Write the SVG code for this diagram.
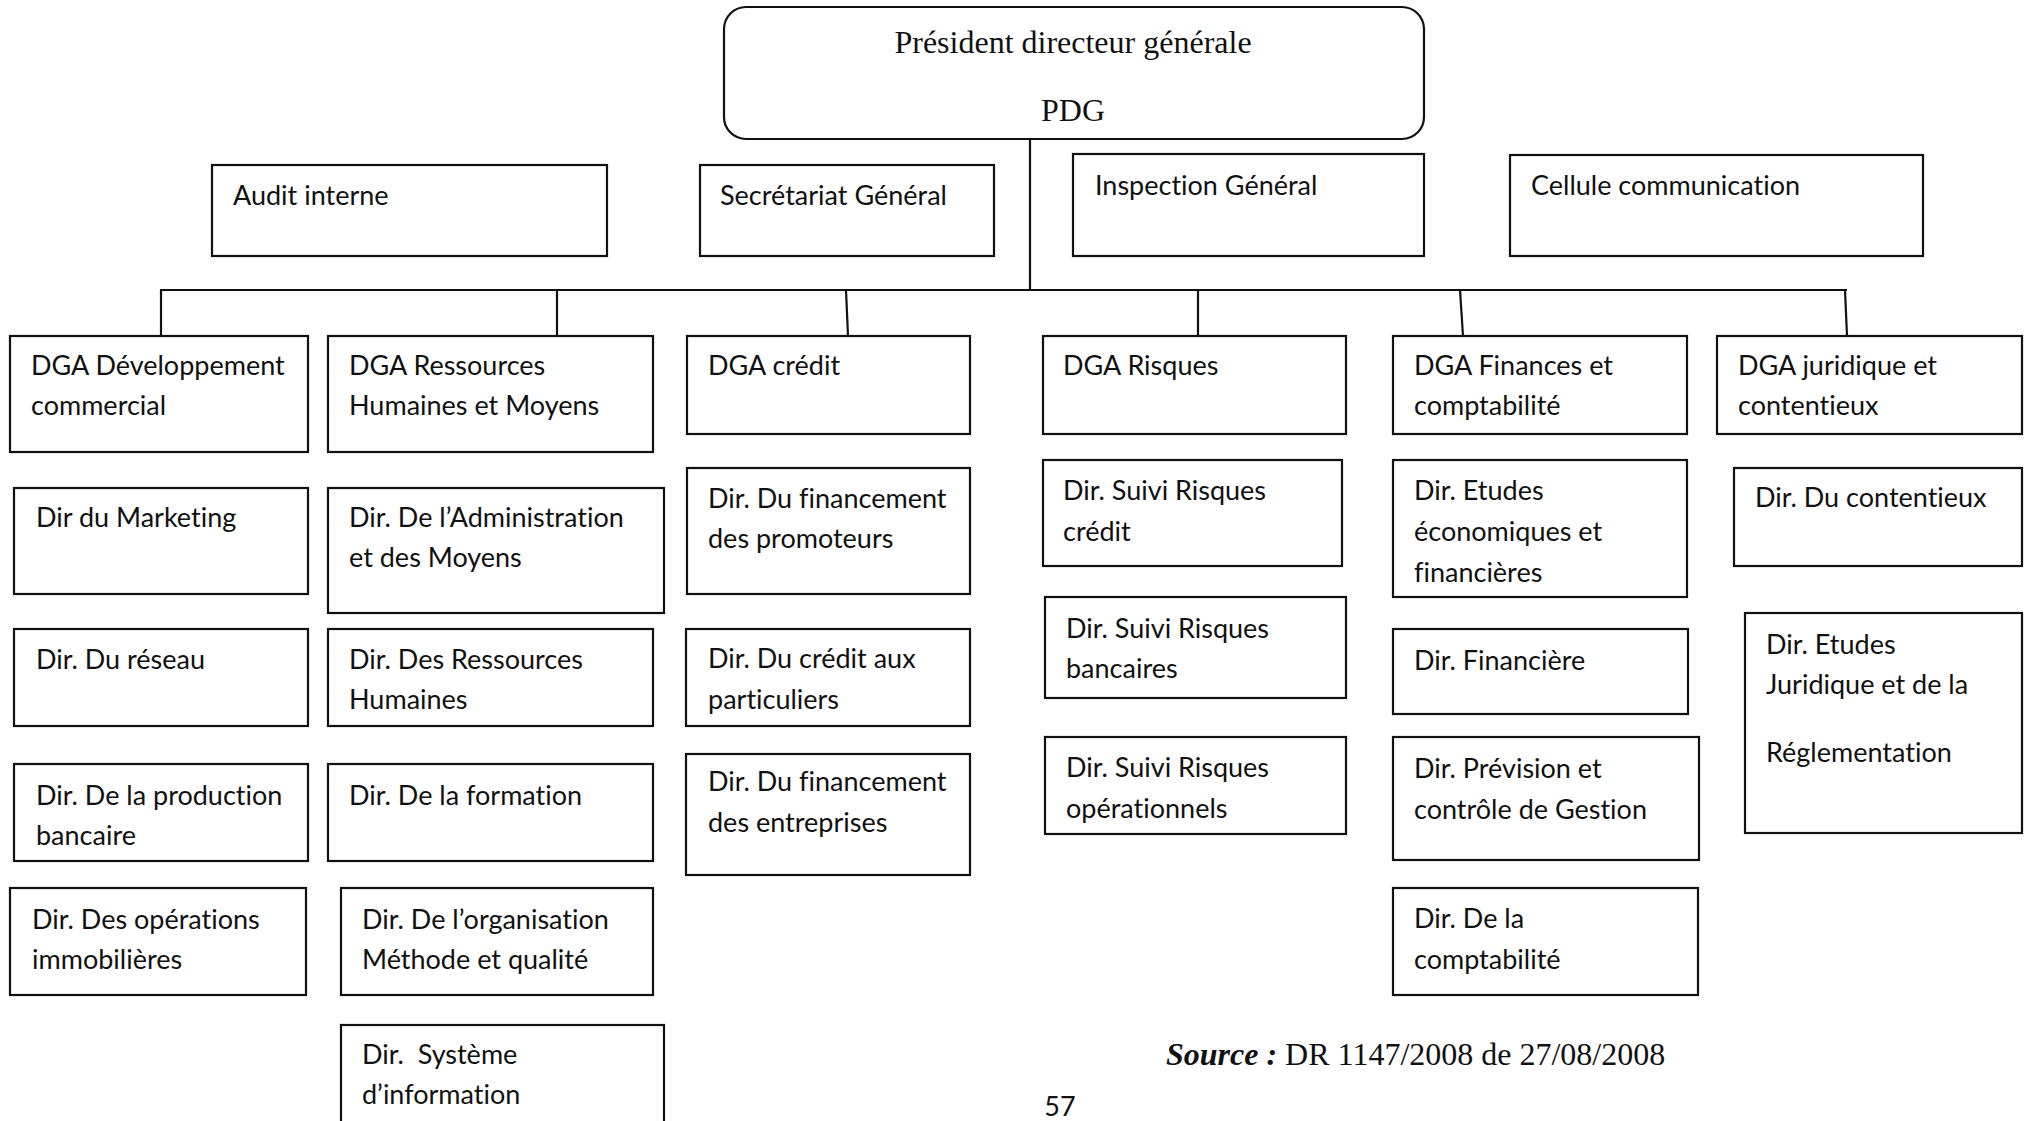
<svg xmlns="http://www.w3.org/2000/svg" width="2026" height="1121" viewBox="0 0 2026 1121">
<style>
.b{fill:#fff;stroke:#111;stroke-width:2.2}
.t{font-family:Lato,"Liberation Sans",sans-serif;font-size:27px;fill:#111;font-variant-ligatures:none}
.tr{font-family:"Liberation Serif","Times New Roman",serif;font-size:32px;fill:#111}
.c{fill:none;stroke:#111;stroke-width:2.2}
</style>
<rect width="2026" height="1121" fill="#fff"/>
<g id="connectors">
<line class="c" x1="1030" y1="139" x2="1030" y2="290"/>
<line class="c" x1="160" y1="290" x2="1847" y2="290"/>
<line class="c" x1="161" y1="290" x2="161" y2="336"/>
<line class="c" x1="557" y1="290" x2="557" y2="336"/>
<line class="c" x1="846" y1="290" x2="848" y2="336"/>
<line class="c" x1="1198" y1="290" x2="1198" y2="336"/>
<line class="c" x1="1460" y1="290" x2="1463" y2="336"/>
<line class="c" x1="1845" y1="290" x2="1847" y2="336"/>
</g>
<g id="pdg"><rect class="b" x="724" y="7" width="700" height="132" rx="22"/><text class="tr" x="1073" y="53" text-anchor="middle">Président directeur générale</text><text class="tr" x="1073" y="121" text-anchor="middle">PDG</text></g>
<g id="audit"><rect class="b" x="212" y="165" width="395" height="91"/><text class="t" x="233" y="205">Audit interne</text></g>
<g id="secretariat"><rect class="b" x="700" y="165" width="294" height="91"/><text class="t" x="720" y="205">Secrétariat Général</text></g>
<g id="inspection"><rect class="b" x="1073" y="154" width="351" height="102"/><text class="t" x="1095" y="195">Inspection Général</text></g>
<g id="cellule"><rect class="b" x="1510" y="155" width="413" height="101"/><text class="t" x="1531" y="195">Cellule communication</text></g>

<g id="dga-dev"><rect class="b" x="10" y="336" width="298" height="116"/><text class="t" x="31" y="375">DGA Développement</text><text class="t" x="31" y="415">commercial</text></g>
<g id="dga-rh"><rect class="b" x="328" y="336" width="325" height="116"/><text class="t" x="349" y="375">DGA Ressources</text><text class="t" x="349" y="415">Humaines et Moyens</text></g>
<g id="dga-credit"><rect class="b" x="687" y="336" width="283" height="98"/><text class="t" x="708" y="375">DGA crédit</text></g>
<g id="dga-risques"><rect class="b" x="1043" y="336" width="303" height="98"/><text class="t" x="1063" y="375">DGA Risques</text></g>
<g id="dga-finances"><rect class="b" x="1393" y="336" width="294" height="98"/><text class="t" x="1414" y="375">DGA Finances et</text><text class="t" x="1414" y="415">comptabilité</text></g>
<g id="dga-juridique"><rect class="b" x="1717" y="336" width="305" height="98"/><text class="t" x="1738" y="375">DGA juridique et</text><text class="t" x="1738" y="415">contentieux</text></g>

<g id="dir-marketing"><rect class="b" x="14" y="488" width="294" height="106"/><text class="t" x="36" y="527">Dir du Marketing</text></g>
<g id="dir-reseau"><rect class="b" x="14" y="629" width="294" height="97"/><text class="t" x="36" y="669">Dir. Du réseau</text></g>
<g id="dir-production"><rect class="b" x="14" y="764" width="294" height="97"/><text class="t" x="36" y="805">Dir. De la production</text><text class="t" x="36" y="845">bancaire</text></g>
<g id="dir-immobilieres"><rect class="b" x="10" y="888" width="296" height="107"/><text class="t" x="32" y="929">Dir. Des opérations</text><text class="t" x="32" y="969">immobilières</text></g>

<g id="dir-administration"><rect class="b" x="328" y="488" width="336" height="125"/><text class="t" x="349" y="527">Dir. De l’Administration</text><text class="t" x="349" y="567">et des Moyens</text></g>
<g id="dir-rh"><rect class="b" x="328" y="629" width="325" height="97"/><text class="t" x="349" y="669">Dir. Des Ressources</text><text class="t" x="349" y="709">Humaines</text></g>
<g id="dir-formation"><rect class="b" x="328" y="764" width="325" height="97"/><text class="t" x="349" y="805">Dir. De la formation</text></g>
<g id="dir-organisation"><rect class="b" x="341" y="888" width="312" height="107"/><text class="t" x="362" y="929">Dir. De l’organisation</text><text class="t" x="362" y="969">Méthode et qualité</text></g>
<g id="dir-si"><rect class="b" x="341" y="1025" width="323" height="110"/><text class="t" x="362" y="1064" xml:space="preserve">Dir.  Système</text><text class="t" x="362" y="1104">d’information</text></g>

<g id="dir-promoteurs"><rect class="b" x="687" y="468" width="283" height="126"/><text class="t" x="708" y="508">Dir. Du financement</text><text class="t" x="708" y="548">des promoteurs</text></g>
<g id="dir-particuliers"><rect class="b" x="686" y="629" width="284" height="97"/><text class="t" x="708" y="668">Dir. Du crédit aux</text><text class="t" x="708" y="709">particuliers</text></g>
<g id="dir-entreprises"><rect class="b" x="686" y="754" width="284" height="121"/><text class="t" x="708" y="791">Dir. Du financement</text><text class="t" x="708" y="832">des entreprises</text></g>

<g id="dir-risques-credit"><rect class="b" x="1043" y="460" width="299" height="106"/><text class="t" x="1063" y="500">Dir. Suivi Risques</text><text class="t" x="1063" y="541">crédit</text></g>
<g id="dir-risques-bancaires"><rect class="b" x="1045" y="597" width="301" height="101"/><text class="t" x="1066" y="638">Dir. Suivi Risques</text><text class="t" x="1066" y="678">bancaires</text></g>
<g id="dir-risques-operationnels"><rect class="b" x="1045" y="737" width="301" height="97"/><text class="t" x="1066" y="777">Dir. Suivi Risques</text><text class="t" x="1066" y="818">opérationnels</text></g>

<g id="dir-etudes-eco"><rect class="b" x="1393" y="460" width="294" height="137"/><text class="t" x="1414" y="500">Dir. Etudes</text><text class="t" x="1414" y="541">économiques et</text><text class="t" x="1414" y="582">financières</text></g>
<g id="dir-financiere"><rect class="b" x="1393" y="629" width="295" height="85"/><text class="t" x="1414" y="670">Dir. Financière</text></g>
<g id="dir-prevision"><rect class="b" x="1393" y="737" width="306" height="123"/><text class="t" x="1414" y="778">Dir. Prévision et</text><text class="t" x="1414" y="819">contrôle de Gestion</text></g>
<g id="dir-comptabilite"><rect class="b" x="1393" y="888" width="305" height="107"/><text class="t" x="1414" y="928">Dir. De la</text><text class="t" x="1414" y="969">comptabilité</text></g>

<g id="dir-contentieux"><rect class="b" x="1734" y="468" width="288" height="98"/><text class="t" x="1755" y="507">Dir. Du contentieux</text></g>
<g id="dir-etudes-juridique"><rect class="b" x="1745" y="613" width="277" height="220"/><text class="t" x="1766" y="654">Dir. Etudes</text><text class="t" x="1766" y="694">Juridique et de la</text><text class="t" x="1766" y="762">Réglementation</text></g>

<text class="tr" x="1166" y="1065"><tspan font-weight="bold" font-style="italic">Source :</tspan> DR 1147/2008 de 27/08/2008</text>
<text class="t" x="1060" y="1116" text-anchor="middle">57</text>
</svg>
